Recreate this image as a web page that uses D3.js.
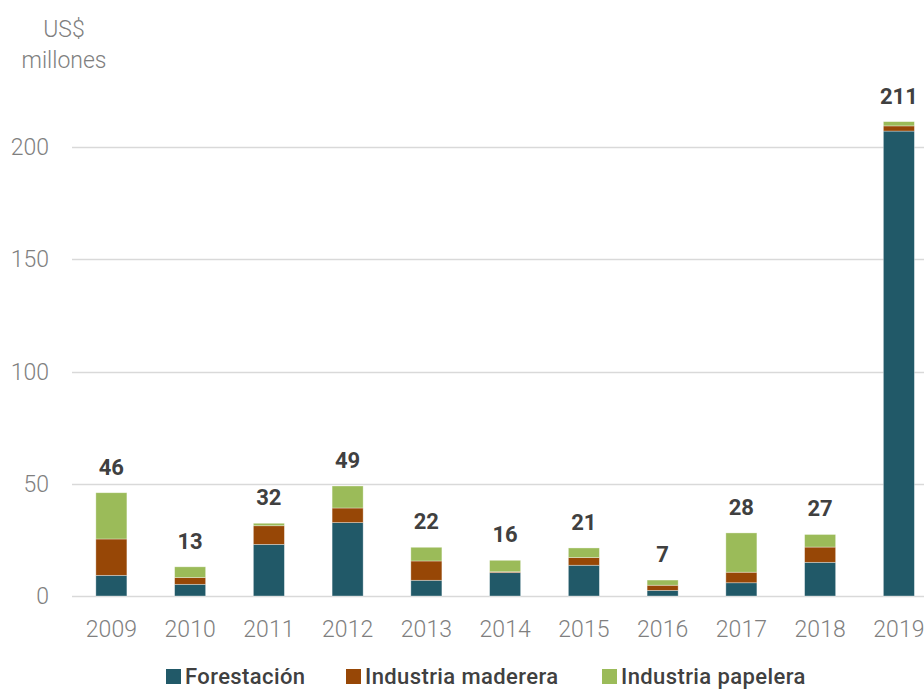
<!DOCTYPE html>
<html>
<head>
<meta charset="utf-8">
<script src="https://cdn.jsdelivr.net/npm/d3@7"></script>
<style>
  html, body { margin: 0; padding: 0; background: #fff; }
  svg { display: block; }
</style>
</head>
<body>
<svg id="chart" width="924" height="690"></svg>
<script>
// Inversión por sector, US$ millones
const years = ["2009", "2010", "2011", "2012", "2013", "2014", "2015", "2016", "2017", "2018", "2019"];
const forestacion = [9.2, 5.2, 23.0, 32.7, 7.0, 10.4, 13.7, 2.5, 5.9, 15.0, 207.1];
const maderera    = [16.2, 3.0, 8.3, 6.5, 8.6, 0.4, 3.4, 2.3, 4.7, 6.8, 2.3];
const papelera    = [20.6, 4.8, 1.1, 9.8, 6.1, 5.1, 4.3, 2.3, 17.5, 5.6, 1.9];
const seriesNames = ["Forestación", "Industria maderera", "Industria papelera"];
const yTicks = [0, 50, 100, 150, 200];

const colors = ["#215968", "#974706", "#9bbb59"];

const rows = years.map((y, i) => ({
  year: y,
  "Forestación": forestacion[i],
  "Industria maderera": maderera[i],
  "Industria papelera": papelera[i],
  total: forestacion[i] + maderera[i] + papelera[i]
}));

const svg = d3.select("#chart");
const W = 924;

const x = d3.scaleBand()
  .domain(years)
  .range([72, 72 + 11 * 78.75])
  .paddingInner(0.606)
  .paddingOuter(0.303);

const y = d3.scaleLinear()
  .domain([0, 200])
  .range([596, 147]);

const baseFont = "Roboto, 'Open Sans', sans-serif";

// gridlines
svg.append("g")
  .selectAll("line")
  .data(yTicks)
  .join("line")
  .attr("x1", 72)
  .attr("x2", W)
  .attr("y1", d => Math.round(y(d)) + 0.5)
  .attr("y2", d => Math.round(y(d)) + 0.5)
  .attr("stroke", "#d9d9d9")
  .attr("stroke-width", 1.5);

// y axis labels
svg.append("g")
  .selectAll("text")
  .data(yTicks)
  .join("text")
  .attr("x", 49)
  .attr("y", d => y(d) + 8)
  .attr("text-anchor", "end")
  .attr("font-family", baseFont)
  .attr("font-weight", 300)
  .attr("font-size", 23)
  .attr("fill", "#7f7f7f")
  .text(d => d);

// unit title
const unit = svg.append("text")
  .attr("text-anchor", "middle")
  .attr("font-family", baseFont)
  .attr("font-weight", 300)
  .attr("font-size", 23)
  .attr("fill", "#7f7f7f");
unit.append("tspan").attr("x", 64).attr("y", 37).text("US$");
unit.append("tspan").attr("x", 64).attr("y", 68).text("millones");

// stacked bars
const stacked = d3.stack().keys(seriesNames)(rows);

svg.append("g")
  .selectAll("g")
  .data(stacked)
  .join("g")
  .attr("fill", (d, i) => colors[i])
  .selectAll("rect")
  .data(d => d)
  .join("rect")
  .attr("x", d => x(d.data.year))
  .attr("width", x.bandwidth())
  .attr("y", d => y(d[1]))
  .attr("height", d => Math.max(0, y(d[0]) - y(d[1])))
  .attr("stroke", "rgba(255,255,255,0.45)")
  .attr("stroke-width", 0.75);

// totals above bars
svg.append("g")
  .selectAll("text")
  .data(rows)
  .join("text")
  .attr("x", d => x(d.year) + x.bandwidth() / 2)
  .attr("y", d => y(d.total) - 18)
  .attr("text-anchor", "middle")
  .attr("font-family", baseFont)
  .attr("font-weight", 700)
  .attr("font-size", 22)
  .attr("fill", "#404040")
  .text(d => Math.round(d.total));

// x axis labels
svg.append("g")
  .selectAll("text")
  .data(years)
  .join("text")
  .attr("x", d => x(d) + x.bandwidth() / 2)
  .attr("y", 637)
  .attr("text-anchor", "middle")
  .attr("font-family", baseFont)
  .attr("font-weight", 300)
  .attr("font-size", 23)
  .attr("fill", "#7f7f7f")
  .text(d => d);

// legend
const legendX = [166, 346, 602];
const legend = svg.append("g")
  .selectAll("g")
  .data(seriesNames)
  .join("g")
  .attr("transform", (d, i) => `translate(${legendX[i]},0)`);
legend.append("rect")
  .attr("x", 0)
  .attr("y", 669)
  .attr("width", 15)
  .attr("height", 15)
  .attr("fill", (d, i) => colors[i]);
legend.append("text")
  .attr("x", 19)
  .attr("y", 684)
  .attr("font-family", baseFont)
  .attr("font-weight", 500)
  .attr("font-size", 22)
  .attr("letter-spacing", 0.4)
  .attr("fill", "#404040")
  .text(d => d);
</script>
</body>
</html>
